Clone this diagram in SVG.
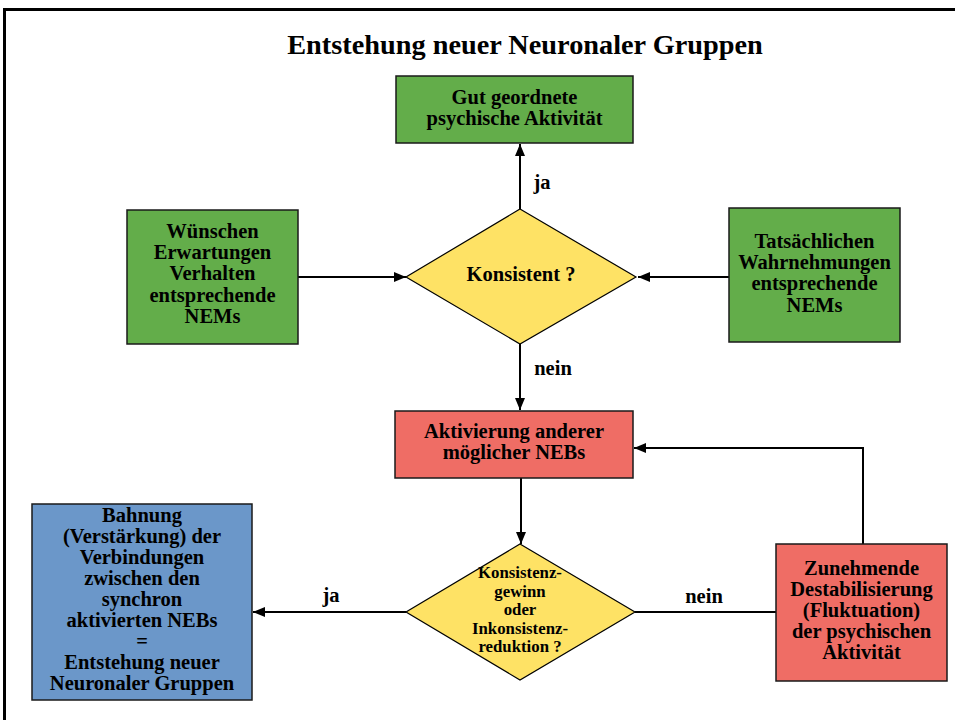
<svg xmlns="http://www.w3.org/2000/svg" width="955" height="720" viewBox="0 0 955 720">
<style>
text{font-family:"Liberation Serif","Times New Roman",serif;font-weight:bold;fill:#000;text-anchor:middle}
.t{font-size:20.5px}
.s{font-size:16.8px}
.title{font-size:28.3px}
.box{stroke:#1a1a1a;stroke-width:1.5}
.green{fill:#63ad4a}
.red{fill:#ef6d65}
.blue{fill:#6b97c9}
.yellow{fill:#fee265;stroke:#000;stroke-width:1.2}
.ln{stroke:#000;stroke-width:2;fill:none}
</style>
<defs>
<marker id="ah" viewBox="0 0 12 10" refX="12" refY="5" markerWidth="12" markerHeight="10" markerUnits="userSpaceOnUse" orient="auto">
<path d="M0,0 L12,5 L0,10 Z" fill="#000"/>
</marker>
</defs>
<rect x="0" y="0" width="955" height="720" fill="#fff"/>
<rect x="4.5" y="9.5" width="1000" height="1000" fill="none" stroke="#000" stroke-width="3"/>
<text class="title" x="525" y="54">Entstehung neuer Neuronaler Gruppen</text>

<g id="connectors">
<line class="ln" x1="520" y1="209" x2="520" y2="144" marker-end="url(#ah)"/>
<line class="ln" x1="298" y1="277" x2="406" y2="277" marker-end="url(#ah)"/>
<line class="ln" x1="729" y1="277" x2="638" y2="277" marker-end="url(#ah)"/>
<line class="ln" x1="520" y1="344" x2="520" y2="410" marker-end="url(#ah)"/>
<line class="ln" x1="521" y1="478" x2="521" y2="544" marker-end="url(#ah)"/>
<polyline class="ln" points="863,544 863,448 634,448" marker-end="url(#ah)"/>
<line class="ln" x1="776" y1="612" x2="635" y2="612"/>
<line class="ln" x1="406" y1="612" x2="253" y2="612" marker-end="url(#ah)"/>
<text class="t" x="542" y="189">ja</text>
<text class="t" x="553" y="375">nein</text>
<text class="t" x="331" y="602">ja</text>
<text class="t" x="704" y="603">nein</text>
</g>

<g id="n-gut">
<rect class="box green" x="396" y="76" width="237" height="67"/>
<text class="t" x="514.5" y="104">Gut geordnete</text>
<text class="t" x="514.5" y="125">psychische Aktivität</text>
</g>

<g id="n-wuenschen">
<rect class="box green" x="127" y="210" width="171" height="134"/>
<text class="t" x="212.5" y="238">Wünschen</text>
<text class="t" x="212.5" y="259">Erwartungen</text>
<text class="t" x="212.5" y="280">Verhalten</text>
<text class="t" x="212.5" y="302">entsprechende</text>
<text class="t" x="212.5" y="323">NEMs</text>
</g>

<g id="n-tats">
<rect class="box green" x="729" y="208" width="171" height="134"/>
<text class="t" x="814.5" y="248">Tatsächlichen</text>
<text class="t" x="814.5" y="269">Wahrnehmungen</text>
<text class="t" x="814.5" y="290">entsprechende</text>
<text class="t" x="814.5" y="312">NEMs</text>
</g>

<g id="n-konsistent">
<polygon class="yellow" points="520,209 636,277 520,344 406,277"/>
<text class="t" x="521" y="281">Konsistent ?</text>
</g>

<g id="n-aktivierung">
<rect class="box red" x="395" y="411" width="238" height="67"/>
<text class="t" x="514" y="438">Aktivierung anderer</text>
<text class="t" x="514" y="459">möglicher NEBs</text>
</g>

<g id="n-konsistenzgewinn">
<polygon class="yellow" points="520,544 635,612 520,680 406,612"/>
<text class="s" x="520" y="578">Konsistenz-</text>
<text class="s" x="520" y="596.5">gewinn</text>
<text class="s" x="520" y="615">oder</text>
<text class="s" x="520" y="633.5">Inkonsistenz-</text>
<text class="s" x="520" y="652">reduktion ?</text>
</g>

<g id="n-zunehmende">
<rect class="box red" x="776" y="544" width="171" height="137"/>
<text class="t" x="861.5" y="575">Zunehmende</text>
<text class="t" x="861.5" y="596">Destabilisierung</text>
<text class="t" x="861.5" y="617">(Fluktuation)</text>
<text class="t" x="861.5" y="638">der psychischen</text>
<text class="t" x="861.5" y="659">Aktivität</text>
</g>

<g id="n-bahnung">
<rect class="box blue" x="32" y="504" width="220" height="196"/>
<text class="t" x="142" y="522">Bahnung</text>
<text class="t" x="142" y="543">(Verstärkung) der</text>
<text class="t" x="142" y="564">Verbindungen</text>
<text class="t" x="142" y="585">zwischen den</text>
<text class="t" x="142" y="606">synchron</text>
<text class="t" x="142" y="627">aktivierten NEBs</text>
<text class="t" x="142" y="648">=</text>
<text class="t" x="142" y="669">Entstehung neuer</text>
<text class="t" x="142" y="690">Neuronaler Gruppen</text>
</g>
</svg>
